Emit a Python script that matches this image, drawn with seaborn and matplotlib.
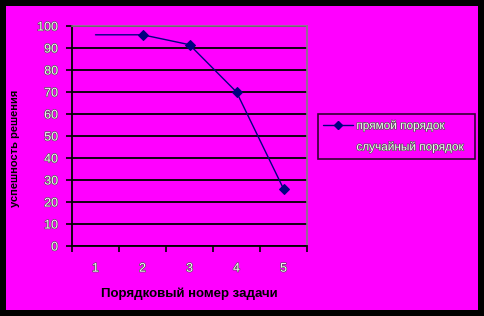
import matplotlib
matplotlib.use("Agg")
import matplotlib.pyplot as plt
import matplotlib.patheffects as pe
from matplotlib.patches import Rectangle
from matplotlib.lines import Line2D
import seaborn as sns
import pandas as pd

tasks = [1, 2, 3, 4, 5]
direct_order = [96, 96, 91.5, 70, 26]
random_order = []
series_names = ["прямой порядок", "случайный порядок"]
y_ticks = [0, 10, 20, 30, 40, 50, 60, 70, 80, 90, 100]
x_label = "Порядковый номер задачи"
y_label = "успешность решения"

sns.set_style("white")
plt.rcParams['font.family'] = ['Liberation Sans', 'DejaVu Sans']

MAG = "#ff00ff"
fig = plt.figure(figsize=(4.84, 3.16), dpi=100, facecolor="black")
fig.patches.append(Rectangle((6/484, 6/316), 472/484, 304/316,
                             transform=fig.transFigure, facecolor=MAG,
                             edgecolor="none", zorder=-10))
ax = fig.add_axes([72/484, 1-246/316, 235/484, 220/316])
ax.set_facecolor(MAG)

df = pd.DataFrame({"task": tasks, "value": direct_order})
sns.lineplot(data=df, x="task", y="value", ax=ax, color="#000080",
             linewidth=1.0, marker="D", markersize=5, markevery=[1, 2, 3, 4],
             markeredgecolor="#000080", zorder=5)

ax.set_xlim(0.5, 5.5)
ax.set_ylim(0, 100)
ax.set_yticks(y_ticks)
ax.set_xticks(tasks)
ax.set_xticks([0.5, 1.5, 2.5, 3.5, 4.5, 5.5], minor=True)
ax.tick_params(axis="x", which="major", length=0, pad=12, labelsize=9)
ax.tick_params(axis="x", which="minor", length=4, width=1.2, color="black", direction="out", bottom=True)
ax.tick_params(axis="y", length=4, width=1.2, color="black", direction="out", pad=6, labelsize=9, left=True)
stroke = [pe.withStroke(linewidth=0.9, foreground="#505050")]
for lab in ax.get_xticklabels() + ax.get_yticklabels():
    lab.set_color("#f4f4f4")
    lab.set_path_effects(stroke)

ax.grid(axis="y", color="black", linewidth=1.3)
ax.grid(axis="x", visible=False)
ax.set_axisbelow(True)
for s in ["top", "right"]:
    ax.spines[s].set_color("#808080")
    ax.spines[s].set_linewidth(1.2)
for s in ["left", "bottom"]:
    ax.spines[s].set_color("black")
    ax.spines[s].set_linewidth(1.3)

ax.set_xlabel(x_label, fontsize=9.5, fontweight="bold", color="black", labelpad=9)
ax.set_ylabel("")
fig.text(15/484, 1-148/316, y_label, rotation=90, ha="center", va="center",
         fontsize=8, fontweight="bold", color="black")

handles = [Line2D([], [], color="#000080", marker="D", markersize=4, linewidth=1.0),
           Line2D([], [], color=MAG, linewidth=1.0)]
leg = ax.legend(handles, series_names, loc="center left",
                bbox_to_anchor=(318/484, 1-158/316, 157/484, 43/316),
                bbox_transform=fig.transFigure, mode="expand",
                frameon=True, fancybox=False, fontsize=8.5, handlelength=2.5,
                handletextpad=0.3, borderaxespad=0, borderpad=0.45, labelspacing=0.75)
leg.get_frame().set_facecolor(MAG)
leg.get_frame().set_edgecolor("black")
leg.get_frame().set_linewidth(1.2)
for t in leg.get_texts():
    t.set_color("#f4f4f4")
    t.set_path_effects(stroke)

fig.savefig("out.png", dpi=100, facecolor="black")
